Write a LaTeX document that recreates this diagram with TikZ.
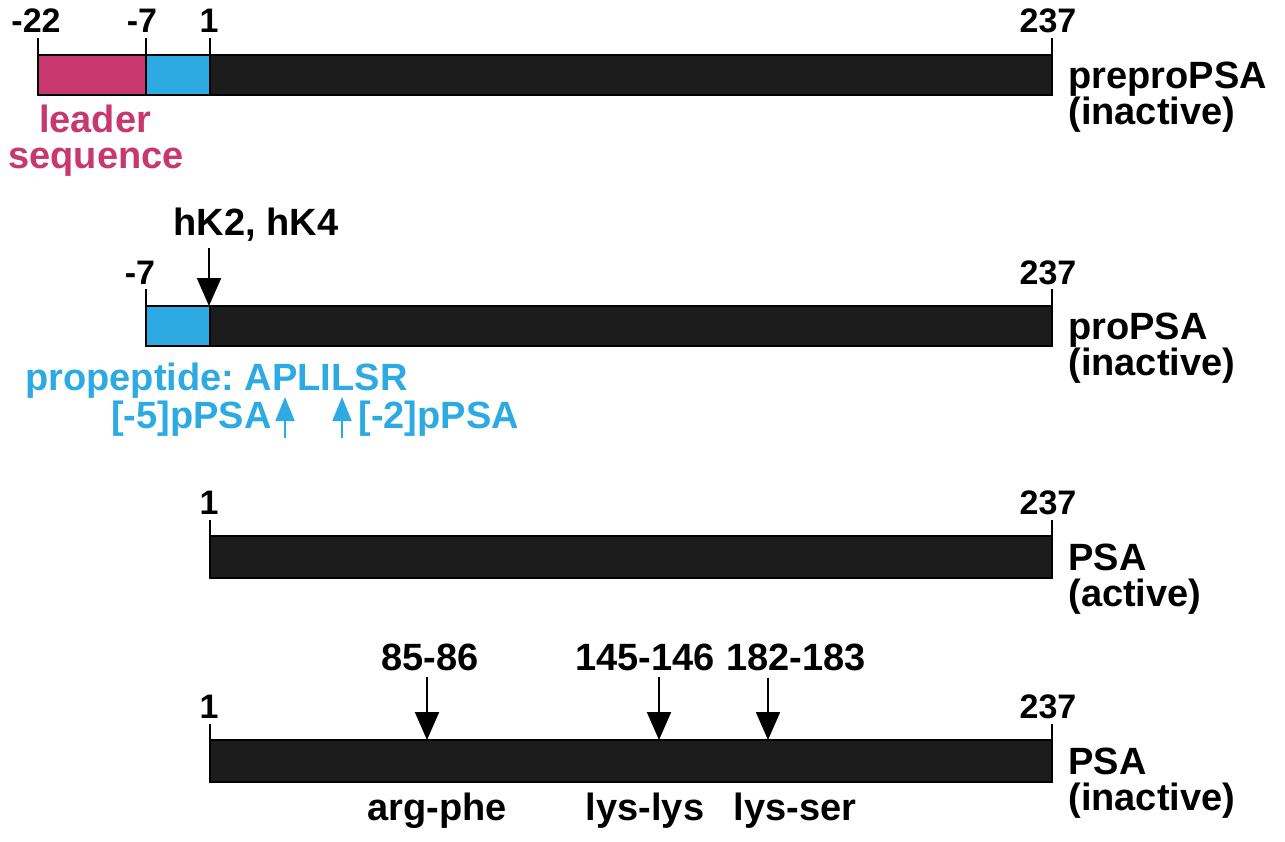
\documentclass[tikz,border=0pt]{standalone}
\usepackage{fontspec}
\setmainfont{Liberation Sans}
\usetikzlibrary{arrows.meta}
\definecolor{leader}{RGB}{200,55,110}
\definecolor{propep}{RGB}{45,170,225}
\definecolor{chain}{RGB}{28,28,28}
\frenchspacing

\begin{document}
\begin{tikzpicture}[x=0.5pt,y=-0.5pt,
    font=\bfseries\fontsize{19}{21}\selectfont,
    num/.style={font=\bfseries\fontsize{17}{20}\selectfont, anchor=base, inner sep=0pt},
    lab/.style={anchor=base west, inner sep=0pt},
    seg/.style={draw=black, line width=1pt},
    cut/.style={line width=1pt, -{Triangle[width=12pt,length=14pt]}},
    pep/.style={propep, line width=1pt, -{Triangle[width=9.5pt,length=12pt]}}]
  \useasboundingbox (0,0) rectangle (1285,841);
  \def\xe{1052}

  % preproPSA
  \filldraw[seg, fill=leader] (38,55) rectangle (146,95);
  \filldraw[seg, fill=propep] (146,55) rectangle (210,95);
  \filldraw[seg, fill=chain] (210,55) rectangle (\xe,95);
  \draw[line width=1pt] (38,55) -- (38,38);
  \draw[line width=1pt] (146,55) -- (146,38);
  \draw[line width=1pt] (210,55) -- (210,38);
  \draw[line width=1pt] (\xe,55) -- (\xe,38);
  \node[num] (a1) at (36,32) {-22};
  \node[num] (a2) at (142,32) {-7};
  \node[num] (a3) at (209,32) {1};
  \node[num] (a4) at (1048,32) {237};
  \node[anchor=base, inner sep=0pt, leader] (ld1) at (95,132) {leader};
  \node[anchor=base, inner sep=0pt, leader] (ld2) at (96,168) {sequence};
  \node[lab] (n1) at (1068,88) {preproPSA};
  \node[lab] (n1b) at (1068,124) {(inactive)};

  % proPSA
  \filldraw[seg, fill=propep] (146,306) rectangle (210,346);
  \filldraw[seg, fill=chain] (210,306) rectangle (\xe,346);
  \draw[line width=1pt] (146,306) -- (146,289);
  \draw[line width=1pt] (\xe,306) -- (\xe,289);
  \node[num] (b1) at (140,284) {-7};
  \node[num] (b2) at (1048,284) {237};
  \node[anchor=base] (hk) at (256,235) {hK2, hK4};
  \coordinate (c0) at (209,306);
  \draw[cut] (c0 |- hk.south) -- (c0);
  \node[lab] (n2) at (1068,339) {proPSA};
  \node[lab] (n2b) at (1068,375) {(inactive)};
  \node[lab, propep] (pp) at (25,390) {propeptide: APLILSR};
  \node[anchor=base east, inner sep=0pt, propep] (m5) at (272,428) {[-5]pPSA};
  \node[anchor=base west, inner sep=0pt, propep] (m2) at (358,428) {[-2]pPSA};
  \coordinate (p5) at (285,438);
  \coordinate (p5t) at (285,397);
  \coordinate (p2) at (342,438);
  \coordinate (p2t) at (342,397);
  \draw[pep] (p5) -- (p5t);
  \draw[pep] (p2) -- (p2t);

  % PSA (active)
  \filldraw[seg, fill=chain] (210,536) rectangle (\xe,578);
  \draw[line width=1pt] (210,536) -- (210,520);
  \draw[line width=1pt] (\xe,536) -- (\xe,520);
  \node[num] (c1) at (209,514) {1};
  \node[num] (c2) at (1048,514) {237};
  \node[lab] (n3) at (1068,570) {PSA};
  \node[lab] (n3b) at (1068,606) {(active)};

  % PSA (inactive)
  \filldraw[seg, fill=chain] (210,740) rectangle (\xe,782);
  \draw[line width=1pt] (210,740) -- (210,724);
  \draw[line width=1pt] (\xe,740) -- (\xe,724);
  \node[num] (d1) at (209,718) {1};
  \node[num] (d2) at (1048,718) {237};
  \node[anchor=base] (k1) at (430,670) {85-86};
  \node[anchor=base] (k2) at (645,670) {145-146};
  \node[anchor=base] (k3) at (796,670) {182-183};
  \coordinate (s1) at (427,740);
  \coordinate (s2) at (659,740);
  \coordinate (s3) at (768,740);
  \draw[cut] (s1 |- k1.south) -- (s1);
  \draw[cut] (s2 |- k2.south) -- (s2);
  \draw[cut] (s3 |- k3.south) -- (s3);
  \node[anchor=base, inner sep=0pt] (r1) at (437,820) {arg-phe};
  \node[anchor=base, inner sep=0pt] (r2) at (645,820) {lys-lys};
  \node[anchor=base, inner sep=0pt] (r3) at (795,820) {lys-ser};
  \node[lab] (n4) at (1068,774) {PSA};
  \node[lab] (n4b) at (1068,810) {(inactive)};
\end{tikzpicture}
\end{document}
